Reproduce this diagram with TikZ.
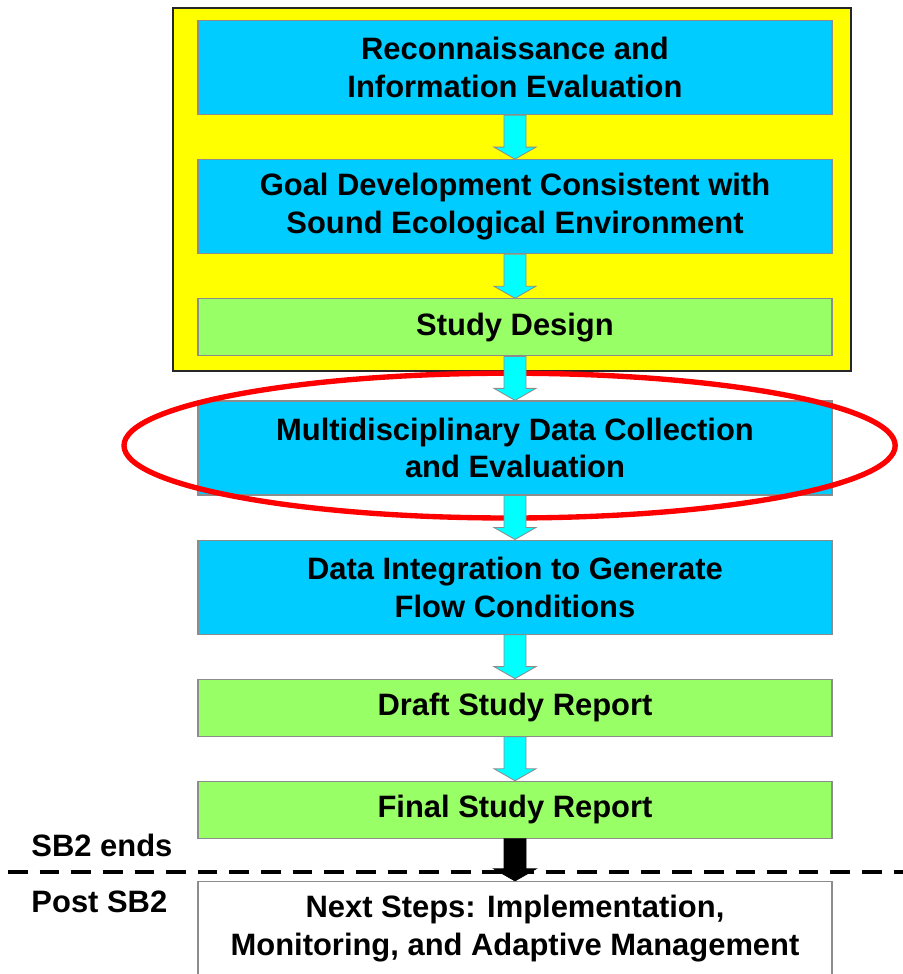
\documentclass[tikz,border=0pt]{standalone}
\usepackage{fontspec}
\setmainfont{Liberation Sans}
\usepackage{xcolor}
\definecolor{Edge}{HTML}{8C8C8C}
\definecolor{StageBlue}{HTML}{00CCFF}
\definecolor{StageGreen}{HTML}{99FF66}
\definecolor{Panel}{HTML}{FFFF00}
\definecolor{Flow}{HTML}{00FFFF}
\definecolor{Mark}{HTML}{FF0000}
\usepackage{tikz}
\usetikzlibrary{positioning,calc}

\begin{document}
\begin{tikzpicture}[
  node distance=1.1cm,
  stage/.style={draw=Edge,fill=StageBlue,line width=0.8pt,align=center,minimum width=15.85cm,minimum height=2.35cm,inner sep=0pt,font=\bfseries\fontsize{22}{27}\selectfont},
  short/.style={stage,fill=StageGreen,minimum height=1.425cm},
  side/.style={anchor=base west,inner sep=0pt,font=\bfseries\fontsize{22}{27}\selectfont},
  flow/.style={draw=Edge,fill=Flow,line width=0.6pt,
    to path={let \p1=(\tikztostart),\p2=(\tikztotarget) in
      (\x1-0.275cm,\y1) -- (\x1-0.275cm,\y2+0.3cm) -- (\x1-0.525cm,\y2+0.3cm) -- (\x1,\y2)
      -- (\x1+0.525cm,\y2+0.3cm) -- (\x1+0.275cm,\y2+0.3cm) -- (\x1+0.275cm,\y1) -- cycle}},
  cut/.style={line width=2.8pt,dash pattern=on 14pt off 8.5pt}
]
  \useasboundingbox (0,0) rectangle (22.575,-24.35);

  % scoping panel
  \filldraw[fill=Panel,draw=black!85,line width=1.2pt] (4.325,-0.2) rectangle (21.275,-9.275);

  \node[stage,anchor=north] (recon) at (12.875,-0.5) {Reconnaissance and\\Information Evaluation};
  \node[stage,below=of recon] (goal) {Goal Development Consistent with\\Sound Ecological Environment};
  \node[short,below=of goal] (design) {Study Design};
  \node[stage,below=of design] (collect) {Multidisciplinary Data Collection\\and Evaluation};
  \node[stage,below=of collect] (integrate) {Data Integration to Generate\\Flow Conditions};
  \node[short,below=of integrate] (draft) {Draft Study Report};
  \node[short,below=of draft] (final) {Final Study Report};
  \node[stage,fill=white,below=1.05cm of final] (next) {Next Steps: Implementation,\\Monitoring, and Adaptive Management};

  \draw[Mark,line width=3.8pt] (12.74,-11.14) ellipse [x radius=9.64cm,y radius=1.81cm];

  \draw[flow] (recon.south) to (goal.north);
  \draw[flow] (goal.south) to (design.north);
  \draw[flow] (design.south) to (collect.north);
  \draw[flow] (collect.south) to (integrate.north);
  \draw[flow] (integrate.south) to (draft.north);
  \draw[flow] (draft.south) to (final.north);

  \coordinate (cutL) at (0.2,-21.8);
  \coordinate (cutR) at (22.575,-21.8);
  \draw[cut] (cutL) -- (cutR);
  \node[side] (ends) at (0.78,-21.4) {SB2 ends};
  \node[side] (post) at (0.78,-22.8) {Post SB2};

  \draw[flow,fill=black,draw=black] (final.south) to (next.north);
\end{tikzpicture}
\end{document}
